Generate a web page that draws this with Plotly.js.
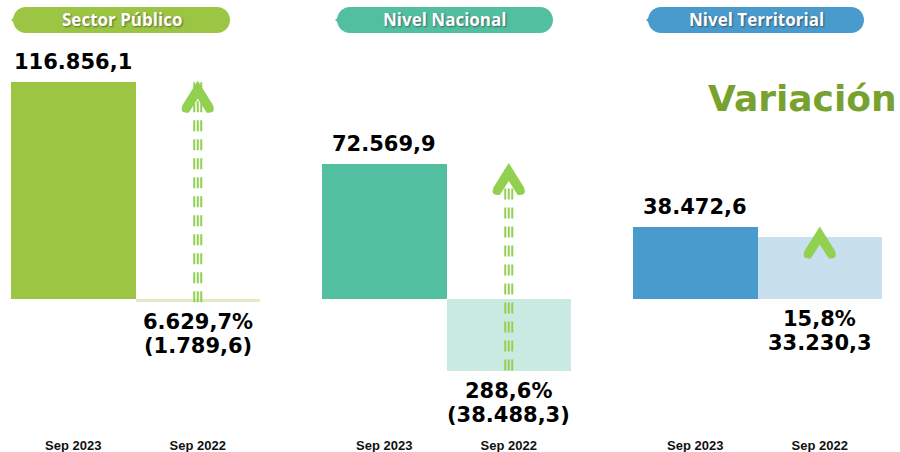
<!DOCTYPE html>
<html>
<head>
<meta charset="utf-8">
<script src="https://cdn.plot.ly/plotly-3.0.1.min.js"></script>
<style>html,body{margin:0;padding:0;background:#fff;}#chart{width:900px;height:452px;}</style>
</head>
<body>
<div id="chart"></div>
<script>
// ---- data ----
const categories = ['Sep 2023', 'Sep 2022'];
const panels = ['Sector Público', 'Nivel Nacional', 'Nivel Territorial'];
const sep2023 = [116856.1, 72569.9, 38472.6];
const sep2022 = [-1789.6, -38488.3, 33230.3];
const variationPct = [6629.7, 288.6, 15.8];

// ---- styles ----
const darkColors = ['#9DC544', '#52BFA1', '#4A9BCD'];
const lightColors = ['#E0ECC6', '#C8EAE1', '#C8DFEE'];
const arrowColor = '#92D050';
const pillBoxes = [[13, 230], [337, 553], [648, 864]];
const domains = [[11 / 900, 260 / 900], [322 / 900, 571 / 900], [633 / 900, 882 / 900]];

function fmt(v) {
  const s = Math.abs(v).toFixed(1);
  let [i, d] = s.split('.');
  i = i.replace(/\B(?=(\d{3})+(?!\d))/g, '.');
  const t = i + ',' + d;
  return v < 0 ? '(' + t + ')' : t;
}
function fmtPct(p) {
  const s = p.toFixed(1);
  let [i, d] = s.split('.');
  i = i.replace(/\B(?=(\d{3})+(?!\d))/g, '.');
  return i + ',' + d + '%';
}

const traces = [];
const layout = {
  width: 900, height: 452,
  margin: {l: 0, r: 0, t: 0, b: 20, pad: 0},
  paper_bgcolor: '#ffffff', plot_bgcolor: '#ffffff',
  showlegend: false,
  bargap: 0,
  yaxis: {range: [-71505, 160753], visible: false, fixedrange: true},
  annotations: [],
  shapes: []
};

const valFont = {family: 'DejaVu Sans', size: 21, weight: 'bold', color: '#000000'};

panels.forEach((name, i) => {
  const ax = i === 0 ? 'x' : 'x' + (i + 1);
  const axKey = i === 0 ? 'xaxis' : 'xaxis' + (i + 1);
  layout[axKey] = {
    domain: domains[i], anchor: 'y', range: [-0.5, 1.5],
    tickvals: [0, 1], ticktext: categories,
    showgrid: false, zeroline: false, showline: false, ticks: '',
    ticklabelstandoff: 4,
    tickfont: {family: 'Liberation Sans', size: 13, weight: 'bold', color: '#111111'},
    fixedrange: true
  };
  traces.push({
    type: 'bar', xaxis: ax, yaxis: 'y',
    x: [0, 1], y: [sep2023[i], sep2022[i]], width: [1, 1],
    marker: {color: [darkColors[i], lightColors[i]], line: {width: 0}},
    hoverinfo: 'skip'
  });

  // value label for Sep 2023
  layout.annotations.push({
    xref: ax, yref: 'y', x: 0, y: sep2023[i], yanchor: 'bottom', yshift: 6,
    text: fmt(sep2023[i]), showarrow: false, font: valFont
  });
  // variation and Sep 2022 value
  const base = Math.min(0, sep2022[i]);
  layout.annotations.push({
    xref: ax, yref: 'y', x: 1, y: base, yanchor: 'top', yshift: -6,
    text: fmtPct(variationPct[i]), showarrow: false, font: valFont
  });
  layout.annotations.push({
    xref: ax, yref: 'y', x: 1, y: base, yanchor: 'top', yshift: -30,
    text: fmt(sep2022[i]), showarrow: false, font: valFont
  });

  // arrow shaft (dashed triple line) from Sep 2022 level to Sep 2023 level
  if (sep2023[i] - sep2022[i] > 20000) {
    [-3.5, 0, 3.5].forEach(off => {
      layout.shapes.push({
        type: 'line', xref: ax, yref: 'y', xsizemode: 'pixel', xanchor: 1,
        x0: off, x1: off, y0: sep2022[i], y1: sep2023[i],
        line: {color: arrowColor, width: 2, dash: '11px,8px'}, layer: 'above'
      });
    });
  }
  // arrow head
  layout.shapes.push({
    type: 'path', xref: ax, yref: 'y', xsizemode: 'pixel', ysizemode: 'pixel',
    xanchor: 1, yanchor: sep2023[i],
    path: 'M0,1 L15,-23 Q19,-32 9,-31 L0,-17 L-9,-31 Q-19,-32 -15,-23 Z',
    fillcolor: arrowColor, line: {width: 0}, layer: 'above'
  });

  // header pill
  const [x0, x1] = pillBoxes[i];
  const y0 = 7, y1 = 33, r = (y1 - y0) / 2, k = 0.5523 * r, mid = (y0 + y1) / 2;
  const P = (x, y) => x + ',' + (-y);
  const pillPath =
    'M' + P(x0 + r, y0) + ' L' + P(x1 - r, y0) +
    ' C' + P(x1 - r + k, y0) + ' ' + P(x1, mid - k) + ' ' + P(x1, mid) +
    ' C' + P(x1, mid + k) + ' ' + P(x1 - r + k, y1) + ' ' + P(x1 - r, y1) +
    ' L' + P(x0 + r, y1) +
    ' C' + P(x0 + r - k, y1) + ' ' + P(x0, mid + k) + ' ' + P(x0, mid) +
    ' C' + P(x0, mid - k) + ' ' + P(x0 + r - k, y0) + ' ' + P(x0 + r, y0) + ' Z';
  layout.shapes.push({
    type: 'path', xref: 'paper', yref: 'paper', xsizemode: 'pixel', ysizemode: 'pixel',
    xanchor: 0, yanchor: 1, path: pillPath, fillcolor: darkColors[i], line: {width: 0}
  });
  layout.shapes.push({
    type: 'path', xref: 'paper', yref: 'paper', xsizemode: 'pixel', ysizemode: 'pixel',
    xanchor: 0, yanchor: 1,
    path: 'M' + P(x0 + 3, mid - 4) + ' L' + P(x0 - 2, mid) + ' L' + P(x0 + 3, mid + 4) + ' Z',
    fillcolor: darkColors[i], line: {width: 0}
  });
  layout.annotations.push({
    xref: 'paper', yref: 'paper', x: (x0 + x1) / 2 / 900, y: (432 - 20) / 432,
    xanchor: 'center', yanchor: 'middle', showarrow: false, text: name,
    font: {family: 'Open Sans', size: 17, weight: 'bold', color: '#ffffff', shadow: '1px 1px 2px rgba(0,0,0,0.45)'}
  });
});

layout.annotations.push({
  xref: 'paper', yref: 'paper', x: 899 / 900, y: (432 - 98) / 432,
  xanchor: 'right', yanchor: 'middle', showarrow: false, text: 'Variación',
  font: {family: 'DejaVu Sans', size: 36, weight: 'bold', color: '#77A22F'}
});

Plotly.newPlot('chart', traces, layout, {displayModeBar: false, staticPlot: true});
</script>
</body>
</html>
